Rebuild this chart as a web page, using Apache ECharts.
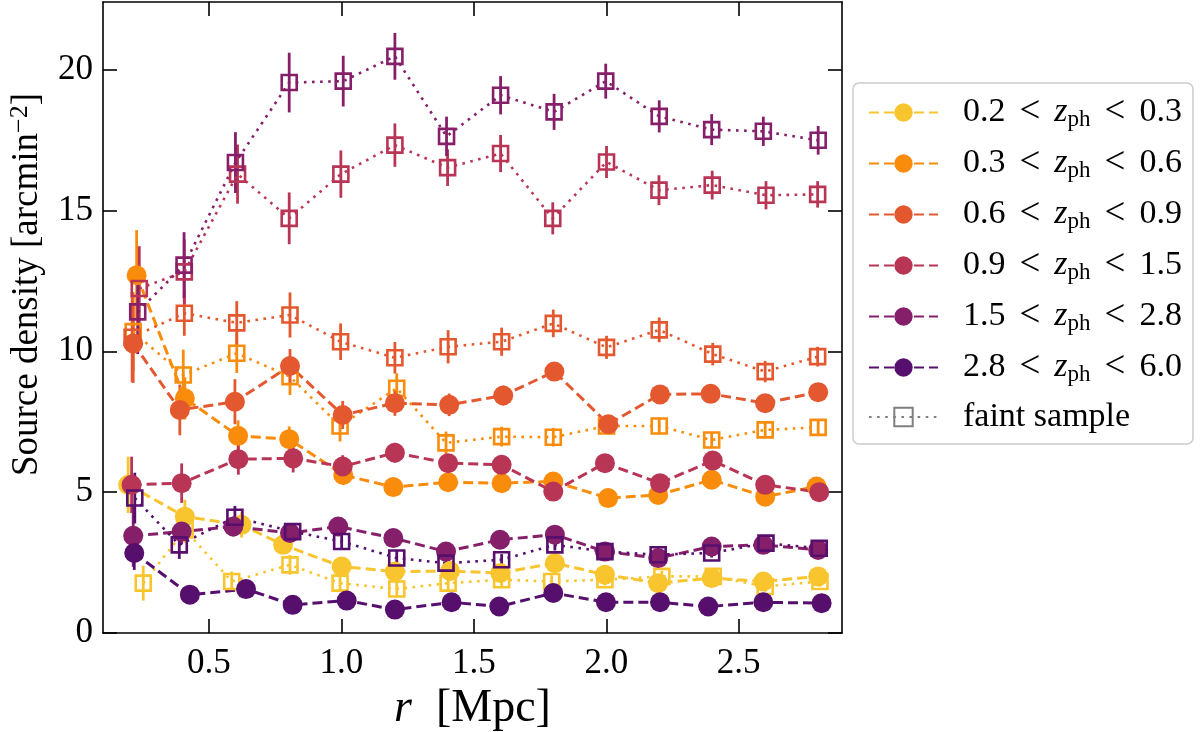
<!DOCTYPE html>
<html>
<head>
<meta charset="utf-8">
<script src="https://cdn.jsdelivr.net/npm/echarts@6/dist/echarts.min.js"></script>
<style>
html, body { margin: 0; padding: 0; background: #fff; }
#box1 { width: 1200px; height: 732px; }
</style>
</head>
<body>
<div id="box1"></div>
<script>
var dom = document.getElementById("box1");
var myChart = echarts.init(dom);

// bin labels (photometric redshift ranges)
var binNames = ['0.2-0.3', '0.3-0.6', '0.6-0.9', '0.9-1.5', '1.5-2.8', '2.8-6.0'];
var binColors = ['#f8c52f', '#f98c0a', '#e4582f', '#b93556', '#861f6a', '#560f6d'];
var xTicks = [0.5, 1.0, 1.5, 2.0, 2.5];
var yTicks = [0, 5, 10, 15, 20];

// 0.2 < z < 0.3
var r1 = [0.195, 0.409, 0.623, 0.78, 1.001, 1.202, 1.41, 1.60, 1.806, 1.995, 2.196, 2.398, 2.593, 2.80];
var n1 = [5.26, 4.13, 3.84, 3.13, 2.36, 2.18, 2.2, 2.13, 2.48, 2.07, 1.77, 1.95, 1.83, 2.01];
var e1 = [1.0, 0.6, 0.45, 0.3, 0.25, 0.22, 0.2, 0.2, 0.2, 0.18, 0.18, 0.17, 0.16, 0.15];
var rf1 = [0.252, 0.41, 0.586, 0.806, 0.995, 1.209, 1.403, 1.605, 1.794, 1.995, 2.21, 2.404, 2.60, 2.807];
var nf1 = [1.77, 3.66, 1.83, 2.42, 1.77, 1.56, 1.77, 1.89, 1.83, 1.89, 2.01, 2.01, 1.65, 1.83];
var ef1 = [0.62, 0.45, 0.35, 0.35, 0.3, 0.28, 0.25, 0.25, 0.22, 0.2, 0.2, 0.2, 0.18, 0.18];

// 0.3 < z < 0.6
var r2 = [0.227, 0.409, 0.61, 0.803, 1.007, 1.196, 1.403, 1.605, 1.80, 2.007, 2.196, 2.398, 2.60, 2.794];
var n2 = [12.7, 8.33, 7.0, 6.88, 5.61, 5.18, 5.35, 5.32, 5.38, 4.79, 4.90, 5.44, 4.84, 5.2];
var e2 = [1.6, 0.75, 0.55, 0.45, 0.35, 0.3, 0.27, 0.25, 0.22, 0.2, 0.2, 0.18, 0.17, 0.16];
var rf2 = [0.214, 0.403, 0.605, 0.806, 0.995, 1.209, 1.395, 1.605, 1.80, 2.001, 2.2, 2.398, 2.60, 2.80];
var nf2 = [10.7, 9.16, 9.93, 9.1, 7.35, 8.69, 6.75, 6.97, 6.95, 7.35, 7.35, 6.85, 7.21, 7.3];
var ef2 = [1.4, 0.9, 0.7, 0.65, 0.55, 0.53, 0.4, 0.35, 0.33, 0.3, 0.3, 0.28, 0.27, 0.25];

// 0.6 < z < 0.9
var r3 = [0.214, 0.39, 0.598, 0.806, 1.005, 1.202, 1.407, 1.611, 1.804, 2.008, 2.203, 2.394, 2.60, 2.80];
var n3 = [10.28, 7.92, 8.21, 9.48, 7.74, 8.16, 8.1, 8.43, 9.28, 7.41, 8.47, 8.49, 8.16, 8.55];
var e3 = [1.4, 0.9, 0.8, 0.6, 0.5, 0.45, 0.4, 0.35, 0.33, 0.3, 0.28, 0.27, 0.25, 0.24];
var rf3 = [0.21, 0.407, 0.605, 0.806, 0.997, 1.202, 1.403, 1.605, 1.80, 2.001, 2.2, 2.402, 2.60, 2.798];
var nf3 = [10.5, 11.35, 11.01, 11.29, 10.34, 9.77, 10.16, 10.34, 10.99, 10.14, 10.76, 9.9, 9.28, 9.81];
var ef3 = [1.6, 0.8, 0.77, 0.8, 0.65, 0.56, 0.59, 0.5, 0.49, 0.41, 0.44, 0.4, 0.38, 0.35];

// 0.9 < z < 1.5
var r4 = [0.208, 0.397, 0.611, 0.818, 1.005, 1.202, 1.403, 1.605, 1.80, 1.995, 2.203, 2.402, 2.60, 2.804];
var n4 = [5.26, 5.32, 6.17, 6.2, 5.91, 6.4, 6.03, 5.97, 5.02, 6.03, 5.32, 6.12, 5.26, 5.0];
var e4 = [1.0, 0.7, 0.55, 0.5, 0.4, 0.35, 0.3, 0.28, 0.25, 0.24, 0.22, 0.2, 0.2, 0.18];
var rf4 = [0.237, 0.407, 0.608, 0.803, 0.998, 1.202, 1.401, 1.601, 1.798, 2.001, 2.199, 2.4, 2.603, 2.798];
var nf4 = [12.23, 12.82, 16.29, 14.72, 16.29, 17.32, 16.52, 17.02, 14.72, 16.72, 15.72, 15.9, 15.54, 15.57];
var ef4 = [1.5, 1.15, 1.05, 0.92, 0.84, 0.77, 0.65, 0.66, 0.57, 0.57, 0.53, 0.51, 0.5, 0.47];

// 1.5 < z < 2.8
var r5 = [0.214, 0.397, 0.592, 0.806, 0.988, 1.196, 1.395, 1.599, 1.806, 1.995, 2.196, 2.398, 2.593, 2.80];
var n5 = [3.45, 3.6, 3.78, 3.55, 3.78, 3.37, 2.89, 3.31, 3.49, 2.89, 2.66, 3.07, 3.13, 2.95];
var e5 = [1.1, 0.45, 0.35, 0.3, 0.28, 0.25, 0.22, 0.2, 0.2, 0.18, 0.17, 0.16, 0.15, 0.15];
var rf5 = [0.231, 0.406, 0.6, 0.803, 1.007, 1.202, 1.397, 1.601, 1.803, 1.998, 2.2, 2.398, 2.593, 2.8];
var nf5 = [11.4, 13.06, 16.7, 19.54, 19.59, 20.47, 17.63, 19.09, 18.5, 19.59, 18.34, 17.87, 17.81, 17.49];
var ef5 = [1.5, 1.17, 1.08, 1.06, 0.9, 0.83, 0.7, 0.68, 0.64, 0.62, 0.57, 0.55, 0.52, 0.51];

// 2.8 < z < 6.0
var r6 = [0.218, 0.428, 0.64, 0.816, 1.02, 1.202, 1.416, 1.596, 1.80, 1.999, 2.203, 2.385, 2.593, 2.813];
var n6 = [2.84, 1.36, 1.56, 1.0, 1.15, 0.83, 1.09, 0.94, 1.42, 1.09, 1.09, 0.94, 1.09, 1.06];
var e6 = [0.6, 0.25, 0.2, 0.15, 0.14, 0.12, 0.12, 0.11, 0.1, 0.1, 0.1, 0.09, 0.09, 0.09];
var rf6 = [0.22, 0.388, 0.598, 0.816, 1.001, 1.209, 1.395, 1.605, 1.806, 1.995, 2.196, 2.398, 2.603, 2.804];
var nf6 = [4.79, 3.13, 4.11, 3.6, 3.25, 2.66, 2.48, 2.6, 3.13, 2.89, 2.78, 2.84, 3.19, 3.01];
var ef6 = [0.9, 0.5, 0.4, 0.3, 0.28, 0.25, 0.22, 0.2, 0.2, 0.18, 0.17, 0.16, 0.15, 0.15];

var bright = [[r1, n1, e1], [r2, n2, e2], [r3, n3, e3], [r4, n4, e4], [r5, n5, e5], [r6, n6, e6]];
var faint = [[rf1, nf1, ef1], [rf2, nf2, ef2], [rf3, nf3, ef3], [rf4, nf4, ef4], [rf5, nf5, ef5], [rf6, nf6, ef6]];

var FONT = 'Liberation Serif';

function pairs(r, n) {
    var res = [];
    for (var i = 0; i < r.length; i++) res.push([r[i], n[i]]);
    return res;
}

function errSeries(r, n, e, color) {
    var d = [];
    for (var i = 0; i < r.length; i++) d.push([r[i], n[i], e[i]]);
    return {
        type: 'custom',
        name: '',
        silent: true,
        data: d,
        encode: { x: 0, y: 1 },
        renderItem: function (params, api) {
            var x = api.value(0), y = api.value(1), s = api.value(2);
            var p1 = api.coord([x, y - s]);
            var p2 = api.coord([x, y + s]);
            return {
                type: 'line',
                shape: { x1: p1[0], y1: p1[1], x2: p2[0], y2: p2[1] },
                style: { stroke: color, lineWidth: 2.8 }
            };
        }
    };
}

var series = [];
for (var k = 0; k < binNames.length; k++) {
    var c = binColors[k];
    var b = bright[k], f = faint[k];
    series.push(errSeries(b[0], b[1], b[2], c));
    series.push({
        name: binNames[k],
        type: 'line',
        data: pairs(b[0], b[1]),
        symbol: 'circle',
        symbolSize: 20,
        itemStyle: { color: c },
        lineStyle: { color: c, width: 3, type: [10, 5] }
    });
    series.push(errSeries(f[0], f[1], f[2], c));
    series.push({
        name: 'faint ' + binNames[k],
        type: 'line',
        data: pairs(f[0], f[1]),
        symbol: 'rect',
        symbolSize: 15,
        itemStyle: { color: 'rgba(0,0,0,0)', borderColor: c, borderWidth: 2.6 },
        lineStyle: { color: c, width: 2.6, type: [2.6, 5.5] }
    });
}
// legend entry only
series.push({
    name: 'faint sample',
    type: 'line',
    data: [],
    symbol: 'rect',
    symbolSize: 15,
    itemStyle: { color: 'rgba(0,0,0,0)', borderColor: '#7f7f7f', borderWidth: 2.6 },
    lineStyle: { color: '#7f7f7f', width: 2.6, type: [2.6, 5.5] }
});

var axisCommon = {
    axisLine: { show: true, onZero: false, lineStyle: { color: '#000', width: 1.6 } },
    axisTick: { show: true, inside: true, length: 14, lineStyle: { color: '#000', width: 1.6 } },
    splitLine: { show: false }
};

option = {
    backgroundColor: '#fff',
    animation: false,
    grid: { left: 103, right: 358, top: 2, bottom: 99, containLabel: false, outerBoundsMode: 'none' },
    legend: {
        orient: 'vertical',
        left: 853,
        top: 83,
        data: binNames.concat(['faint sample']),
        itemWidth: 69,
        itemHeight: 23,
        itemGap: 13.5,
        padding: [11, 11, 10, 15],
        borderColor: '#cccccc',
        borderWidth: 1.5,
        borderRadius: 6,
        backgroundColor: '#fff',
        selectedMode: false,
        formatter: function (name) {
            if (name === 'faint sample') return '{n|faint sample}';
            var p = name.split('-');
            return '{n|' + p[0] + '}{l|<}{z|z}{s|ph}{l|<}{n|' + p[1] + '}';
        },
        textStyle: {
            padding: [0, 0, 0, 20],
            rich: {
                n: { fontFamily: FONT, fontSize: 34, color: '#000', lineHeight: 38 },
                l: { fontFamily: FONT, fontSize: 37, color: '#000', lineHeight: 38, padding: [0, 14, 0, 14] },
                z: { fontFamily: FONT, fontSize: 34, fontStyle: 'italic', color: '#000', lineHeight: 38 },
                s: { fontFamily: FONT, fontSize: 23, color: '#000', lineHeight: 20, verticalAlign: 'bottom' }
            }
        }
    },
    xAxis: [Object.assign({}, axisCommon, {
        type: 'value',
        position: 'bottom',
        min: 0.1,
        max: 2.89,
        axisTick: Object.assign({}, axisCommon.axisTick, { customValues: xTicks }),
        axisLabel: {
            customValues: xTicks,
            margin: 13,
            fontFamily: FONT, fontSize: 35, color: '#000',
            formatter: function (v) { return v.toFixed(1); }
        },
        name: '{i|r}{a|[Mpc]}',
        nameLocation: 'middle',
        nameGap: 47,
        nameTextStyle: {
            rich: {
                i: { fontFamily: FONT, fontSize: 46, fontStyle: 'italic', color: '#000', lineHeight: 46, padding: [0, 24, 0, 0] },
                a: { fontFamily: FONT, fontSize: 46, color: '#000', lineHeight: 46 }
            }
        }
    }), Object.assign({}, axisCommon, {
        type: 'value',
        position: 'top',
        min: 0.1,
        max: 2.89,
        axisTick: Object.assign({}, axisCommon.axisTick, { customValues: xTicks }),
        axisLabel: { show: false }
    })],
    yAxis: [Object.assign({}, axisCommon, {
        type: 'value',
        position: 'left',
        min: 0,
        max: 22.4,
        axisTick: Object.assign({}, axisCommon.axisTick, { customValues: yTicks }),
        axisLabel: {
            customValues: yTicks,
            margin: 10,
            fontFamily: FONT, fontSize: 35, color: '#000'
        },
        name: '{a|Source density [arcmin}{b|−2}{a|]}',
        nameLocation: 'middle',
        nameRotate: 90,
        nameGap: 56,
        nameTextStyle: {
            padding: [0, 0, 0, 66],
            rich: {
                a: { fontFamily: FONT, fontSize: 37, color: '#000', lineHeight: 40 },
                b: { fontFamily: FONT, fontSize: 26, color: '#000', lineHeight: 20, verticalAlign: 'top' }
            }
        }
    }), Object.assign({}, axisCommon, {
        type: 'value',
        position: 'right',
        min: 0,
        max: 22.4,
        axisTick: Object.assign({}, axisCommon.axisTick, { customValues: yTicks }),
        axisLabel: { show: false }
    })],
    series: series
};

if (option && typeof option === "object") {
    myChart.setOption(option, true);
}
</script>
</body>
</html>
